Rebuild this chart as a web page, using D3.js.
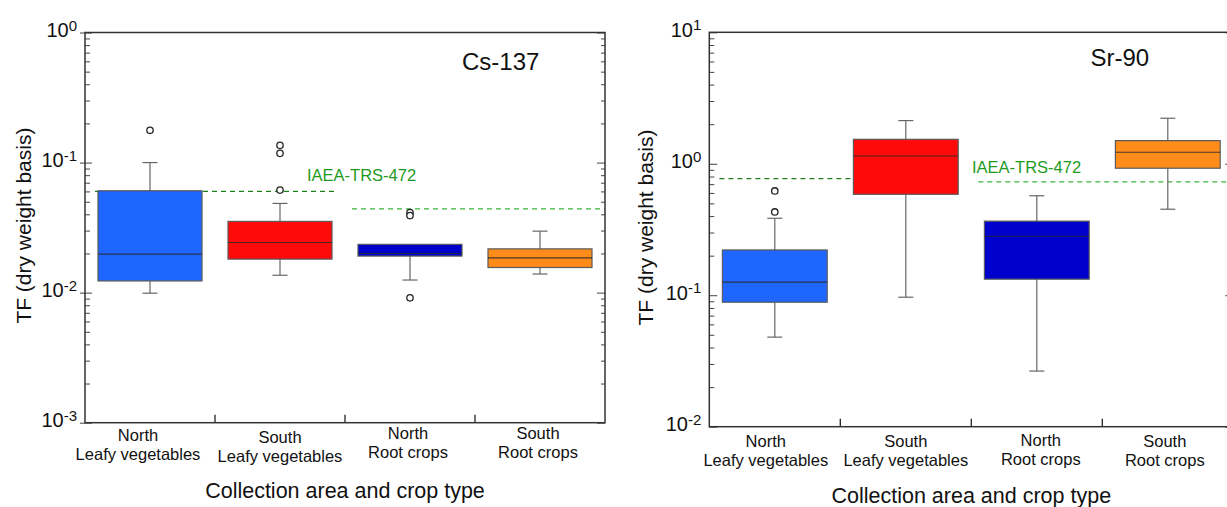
<!DOCTYPE html>
<html>
<head>
<meta charset="utf-8">
<script src="https://cdn.jsdelivr.net/npm/d3@7"></script>
<style>
  html, body { margin: 0; padding: 0; background: #fff; }
  svg { display: block; font-family: "Liberation Sans", Arial, sans-serif; }
</style>
</head>
<body>
<svg id="chart" width="1227" height="507"></svg>
<script>
// Categories (two text lines each)
const categories = [
  ["North", "Leafy vegetables"],
  ["South", "Leafy vegetables"],
  ["North", "Root crops"],
  ["South", "Root crops"]
];

// Cs-137 transfer factors: box statistics per category
const csWhiskerLow  = [0.0099, 0.0136, 0.0125, 0.0139];
const csQ1          = [0.0123, 0.0181, 0.0191, 0.0156];
const csMedian      = [0.0198, 0.0243, 0.0200, 0.0185];
const csQ3          = [0.0607, 0.0353, 0.0235, 0.0217];
const csWhiskerHigh = [0.100, 0.0485, 0.0235, 0.0297];
const csOutliers    = [[0.177], [0.1356, 0.1177, 0.0614], [0.0412, 0.0391, 0.00912], []];
const csReference   = [0.060, 0.044];   // IAEA-TRS-472 values: leafy, root
const csExponents   = [-3, -2, -1, 0];

// Sr-90 transfer factors: box statistics per category
const srWhiskerLow  = [0.048, 0.0966, 0.0265, 0.451];
const srQ1          = [0.0885, 0.586, 0.1325, 0.925];
const srMedian      = [0.1256, 1.146, 0.281, 1.223];
const srQ3          = [0.221, 1.535, 0.366, 1.50];
const srWhiskerHigh = [0.385, 2.13, 0.571, 2.22];
const srOutliers    = [[0.621, 0.43], [], [], []];
const srReference   = [0.77, 0.727];
const srExponents   = [-2, -1, 0, 1];

const boxColors = ["#1f66ff", "#ff0a0a", "#0000cc", "#ff8c1a"];
const refLabel = "IAEA-TRS-472";

const svg = d3.select("#chart");
svg.append("rect").attr("width", 1227).attr("height", 507).attr("fill", "#fff");

function drawPanel(cfg) {
  const g = svg.append("g");
  const x = d3.scaleBand().domain(d3.range(categories.length)).range([cfg.x0, cfg.x1]);
  const e = cfg.exponents;
  const y = d3.scaleLog()
    .domain([Math.pow(10, e[0]), Math.pow(10, e[e.length - 1])])
    .range([cfg.y1, cfg.y0]);
  const bw = x.bandwidth();
  const boxW = bw * 0.8;
  const boxL = i => x(i) + (bw - boxW) / 2;
  const cx = i => x(i) + bw / 2;

  const majors = e.map(k => Math.pow(10, k));
  const minors = [];
  for (let k = 0; k < e.length - 1; k++)
    for (let m = 2; m <= 9; m++) minors.push(m * Math.pow(10, e[k]));

  // reference (IAEA) dashed lines
  const refSpans = [
    [boxL(0) - 3, boxL(1) + boxW + 3, cfg.ref[0], "#1f7f1f"],
    [x(2) + 7, cfg.x1, cfg.ref[1], "#3bb53b"]
  ];
  g.selectAll(".ref").data(refSpans).join("line")
    .attr("x1", d => d[0]).attr("x2", d => Math.min(d[1], 1227))
    .attr("y1", d => y(d[2])).attr("y2", d => y(d[2]))
    .attr("stroke", d => d[3]).attr("stroke-width", 1.3)
    .attr("stroke-dasharray", "5,4");

  const idx = d3.range(categories.length);
  // whiskers
  g.selectAll(".wl").data(idx).join("line")
    .attr("x1", cx).attr("x2", cx)
    .attr("y1", i => y(cfg.lo[i])).attr("y2", i => y(cfg.hi[i]))
    .attr("stroke", "#666").attr("stroke-width", 1.2);
  const caps = [];
  idx.forEach(i => {
    if (cfg.lo[i] < cfg.q1[i]) caps.push([i, cfg.lo[i]]);
    if (cfg.hi[i] > cfg.q3[i]) caps.push([i, cfg.hi[i]]);
  });
  g.selectAll(".cap").data(caps).join("line")
    .attr("x1", d => cx(d[0]) - 7.5).attr("x2", d => cx(d[0]) + 7.5)
    .attr("y1", d => y(d[1])).attr("y2", d => y(d[1]))
    .attr("stroke", "#666").attr("stroke-width", 1.2);

  // boxes
  g.selectAll(".box").data(idx).join("rect")
    .attr("x", boxL).attr("width", boxW)
    .attr("y", i => y(cfg.q3[i]))
    .attr("height", i => y(cfg.q1[i]) - y(cfg.q3[i]))
    .attr("fill", i => boxColors[i])
    .attr("stroke", "#5a5a5a").attr("stroke-width", 1.2);
  g.selectAll(".med").data(idx).join("line")
    .attr("x1", boxL).attr("x2", i => boxL(i) + boxW)
    .attr("y1", i => y(cfg.med[i])).attr("y2", i => y(cfg.med[i]))
    .attr("stroke", "#2a2a2a").attr("stroke-width", 1.2).attr("stroke-opacity", 0.85);

  // outliers
  const pts = [];
  cfg.out.forEach((arr, i) => arr.forEach(v => pts.push([i, v])));
  g.selectAll(".out").data(pts).join("circle")
    .attr("cx", d => cx(d[0])).attr("cy", d => y(d[1])).attr("r", 3.2)
    .attr("fill", "#fff").attr("stroke", "#222").attr("stroke-width", 1.3);

  // left axis: minor and major ticks pointing inward
  g.append("g").attr("transform", `translate(${cfg.x0},0)`)
    .call(d3.axisLeft(y).tickValues(minors).tickSize(-5).tickFormat(""))
    .call(a => a.select(".domain").remove())
    .call(a => a.selectAll("line").attr("stroke", "#444"));
  const yl = g.append("g").attr("transform", `translate(${cfg.x0},0)`)
    .call(d3.axisLeft(y).tickValues(majors).tickSizeInner(-cfg.majorIn).tickSizeOuter(0).tickPadding(8))
    .call(a => a.select(".domain").remove());
  yl.selectAll("line").attr("stroke", "#444").attr("x1", -cfg.majorOut);
  yl.selectAll("text")
    .attr("font-size", 20).attr("fill", "#111").attr("dy", "0.2em")
    .style("font-family", "'Liberation Sans', Arial, sans-serif")
    .each(function (v) {
      const t = d3.select(this).text(null);
      t.append("tspan").text("10");
      t.append("tspan").attr("dy", -6.5).attr("font-size", 15)
        .text(String(Math.round(Math.log10(v))).replace("-", "-"));
    });

  // right axis ticks pointing inward
  g.append("g").attr("transform", `translate(${cfg.x1},0)`)
    .call(d3.axisRight(y).tickValues(minors).tickSize(-4).tickFormat(""))
    .call(a => a.select(".domain").remove())
    .call(a => a.selectAll("line").attr("stroke", "#444"));
  g.append("g").attr("transform", `translate(${cfg.x1},0)`)
    .call(d3.axisRight(y).tickValues(majors).tickSize(-8).tickFormat(""))
    .call(a => a.select(".domain").remove())
    .call(a => a.selectAll("line").attr("stroke", "#444"));

  // bottom axis: separators between categories
  const seps = d3.range(1, categories.length).map(i => x(i));
  g.selectAll(".sep").data(seps).join("line")
    .attr("x1", d => d).attr("x2", d => d)
    .attr("y1", cfg.y1).attr("y2", cfg.y1 - 8)
    .attr("stroke", "#222").attr("stroke-width", 1.3);

  // frame
  g.append("rect").attr("x", cfg.x0).attr("y", cfg.y0)
    .attr("width", cfg.x1 - cfg.x0).attr("height", cfg.y1 - cfg.y0)
    .attr("fill", "none").attr("stroke", "#333").attr("stroke-width", 1.5);

  // category labels
  const cl = g.selectAll(".cat").data(idx).join("text")
    .attr("text-anchor", "middle").attr("font-size", 16.5).attr("fill", "#111");
  cl.append("tspan").attr("x", i => cx(i) + cfg.labShift[i]).attr("y", i => cfg.labY[i])
    .text(i => categories[i][0]);
  cl.append("tspan").attr("x", i => cx(i) + cfg.labShift[i]).attr("y", i => cfg.labY[i] + 19)
    .text(i => categories[i][1]);

  // axis titles
  g.append("text").attr("x", (cfg.x0 + cfg.x1) / 2).attr("y", cfg.xTitleY)
    .attr("text-anchor", "middle").attr("font-size", 21.5).attr("fill", "#111")
    .text("Collection area and crop type");
  g.append("text")
    .attr("transform", `translate(${cfg.yTitleX},${(cfg.y0 + cfg.y1) / 2 - 2}) rotate(-90)`)
    .attr("text-anchor", "middle").attr("font-size", 21).attr("fill", "#111")
    .text("TF (dry weight basis)");

  // panel title and reference label
  g.append("text").attr("x", cfg.titleX).attr("y", cfg.titleY)
    .attr("font-size", 24).attr("fill", "#111").text(cfg.title);
  g.append("text").attr("x", cfg.refX).attr("y", cfg.refY)
    .attr("font-size", 16.5).attr("fill", "#1e9a1e").text(refLabel);
}

drawPanel({
  title: "Cs-137", exponents: csExponents,
  lo: csWhiskerLow, q1: csQ1, med: csMedian, q3: csQ3, hi: csWhiskerHigh,
  out: csOutliers, ref: csReference,
  x0: 85, x1: 605, y0: 32.5, y1: 422.7,
  majorIn: 7, majorOut: 5,
  labShift: [-12, 0, -2, -2], labY: [441, 443, 438.5, 438.5],
  xTitleY: 498, yTitleX: 30.5,
  titleX: 462, titleY: 70, refX: 307, refY: 181
});

drawPanel({
  title: "Sr-90", exponents: srExponents,
  lo: srWhiskerLow, q1: srQ1, med: srMedian, q3: srQ3, hi: srWhiskerHigh,
  out: srOutliers, ref: srReference,
  x0: 709.3, x1: 1233.3, y0: 32.3, y1: 426.7,
  majorIn: 8, majorOut: 0,
  labShift: [-9, 0, 4, -3], labY: [446.5, 446.5, 446, 447],
  xTitleY: 502.5, yTitleX: 653,
  titleX: 1090.5, titleY: 65.5, refX: 972, refY: 173
});
</script>
</body>
</html>
